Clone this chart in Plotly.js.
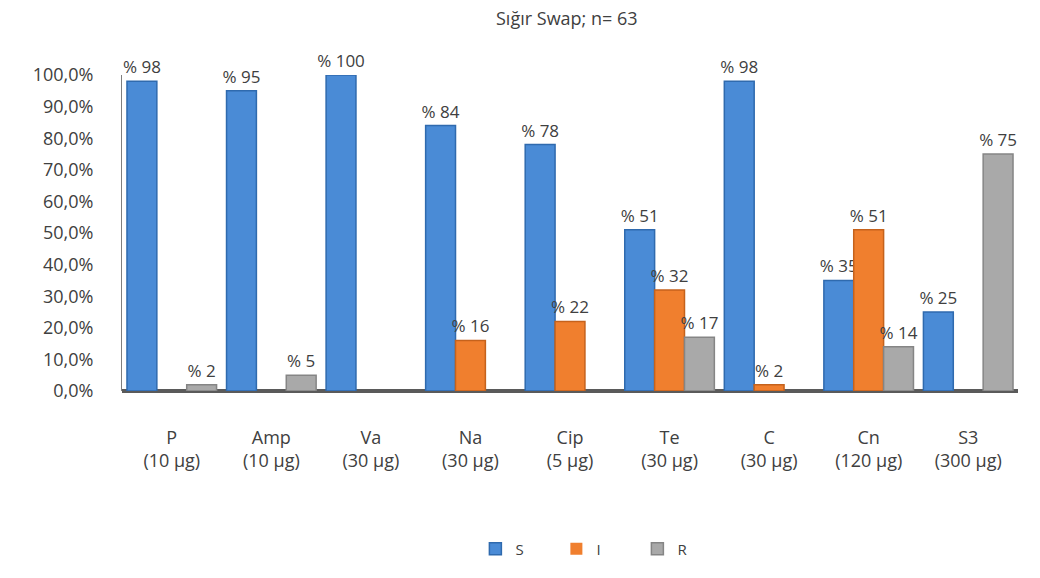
<!DOCTYPE html>
<html>
<head>
<meta charset="utf-8">
<script src="https://cdn.plot.ly/plotly-3.0.1.min.js"></script>
<style>
  html, body { margin: 0; padding: 0; background: #ffffff; }
  #chart { width: 1040px; height: 578px; }
</style>
</head>
<body>
<div id="chart"></div>
<script>
// Antibiotic discs tested (with disc content)
const categories = [
  "P<br>(10 µg)", "Amp<br>(10 µg)", "Va<br>(30 µg)", "Na<br>(30 µg)",
  "Cip<br>(5 µg)", "Te<br>(30 µg)", "C<br>(30 µg)", "Cn<br>(120 µg)", "S3<br>(300 µg)"
];

// Percentage of isolates per category: Susceptible, Intermediate, Resistant
const seriesS = [98, 95, 100, 84, 78, 51, 98, 35, 25];
const seriesI = [0, 0, 0, 16, 22, 32, 2, 51, 0];
const seriesR = [2, 5, 0, 0, 0, 17, 0, 14, 75];

const yTicks = [0, 10, 20, 30, 40, 50, 60, 70, 80, 90, 100];
const yTickText = yTicks.map(v => v.toFixed(1).replace(".", ",") + "%");

const textColor = "#404040";
const fontFamily = "'Open Sans', sans-serif";

function labels(vals) {
  return vals.map(v => (v > 0 ? "% " + v : ""));
}

function barTrace(name, vals, color, edge) {
  return {
    type: "bar",
    name: name,
    x: categories,
    y: vals,
    text: labels(vals),
    textposition: "outside",
    constraintext: "none",
    cliponaxis: false,
    textfont: { family: fontFamily, size: 17, color: textColor },
    // no outline on empty (zero) bars
    marker: { color: color, line: { color: edge, width: vals.map(v => (v > 0 ? 1.5 : 0)) } },
    hoverinfo: "x+y+name"
  };
}

const data = [
  barTrace("S", seriesS, "#4A8BD6", "#2F6AAE"),
  barTrace("I", seriesI, "#F07F2E", "#C5621C"),
  barTrace("R", seriesR, "#A9A9A9", "#858585")
];

const layout = {
  width: 1040,
  height: 578,
  paper_bgcolor: "#ffffff",
  plot_bgcolor: "#ffffff",
  font: { family: fontFamily, size: 18, color: textColor },
  title: {
    text: "Sığır Swap; n= 63",
    font: { family: fontFamily, size: 18, color: textColor },
    x: 0.545, xanchor: "center",
    y: 0.968, yanchor: "middle"
  },
  margin: { l: 122, r: 22, t: 75, b: 178 },
  barmode: "group",
  bargap: 0.1,
  bargroupgap: 0,
  showlegend: true,
  legend: {
    orientation: "h",
    x: 0.53, xanchor: "center",
    y: -0.5, yanchor: "middle",
    font: { family: fontFamily, size: 15, color: textColor },
    entrywidth: 36,
    entrywidthmode: "pixels",
    traceorder: "normal"
  },
  xaxis: {
    type: "category",
    showgrid: false,
    zeroline: false,
    showline: false,
    ticks: "",
    tickfont: { family: fontFamily, size: 18, color: textColor },
    ticklabelstandoff: 34
  },
  yaxis: {
    range: [0, 100],
    tickvals: yTicks,
    ticktext: yTickText,
    showgrid: false,
    zeroline: true,
    zerolinecolor: "#5a5a5a",
    zerolinewidth: 4,
    showline: true,
    linecolor: "#7f7f7f",
    linewidth: 1,
    ticks: "",
    ticklabelstandoff: 24,
    tickfont: { family: fontFamily, size: 18, color: textColor }
  }
};

Plotly.newPlot("chart", data, layout, { displayModeBar: false, staticPlot: true });
</script>
</body>
</html>
